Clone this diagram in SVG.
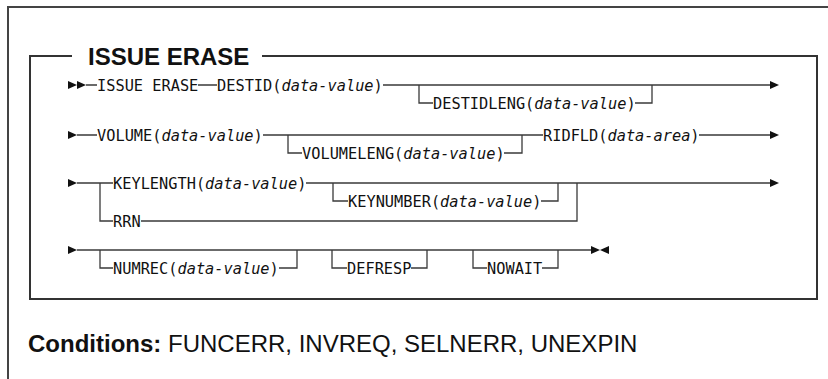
<svg xmlns="http://www.w3.org/2000/svg" width="828" height="379" viewBox="0 0 828 379">
<style>
.frame{fill:none;stroke:#444;stroke-width:2}
.box{fill:none;stroke:#333;stroke-width:2}
.ln{fill:none;stroke:#3a3a3a;stroke-width:1.3}
.ar{fill:#111}
.kw{font-family:"DejaVu Sans Mono","Liberation Mono",monospace;font-size:15.3px;fill:#111}
.it{font-style:italic}
.title{font-family:"Liberation Sans",Arial,sans-serif;font-weight:bold;font-size:24px;fill:#111}
.cond{font-family:"Liberation Sans",Arial,sans-serif;font-size:24px;fill:#111}
</style>
<defs>
<path id="ra" d="M0,-4 L9,0 L0,4 Z"/>
<path id="la" d="M0,-4 L-9,0 L0,4 Z"/>
</defs>
<g id="page-frame">
<path class="frame" d="M8,380 L8,7 L828,7"/>
</g>
<g id="syntax-box">
<path class="box" d="M72,56 L30,56 L30,299 L817,299 L817,56 L262,56"/>
<text class="title" x="88" y="64.5">ISSUE ERASE</text>
</g>
<g id="connectors">
<path class="ln" d="M86,85 L97,85 M198,85 L217,85 M383,85 L770,85"/>
<path class="ln" d="M419,85 L419,103 L433,103 M635,103 L652,103 L652,85"/>
<path class="ln" d="M77,135 L97,135 M263,135 L543,135 M699,135 L770,135"/>
<path class="ln" d="M288,135 L288,153 L302,153 M504,153 L522,153 L522,135"/>
<path class="ln" d="M77,183 L113,183 M306,183 L770,183"/>
<path class="ln" d="M100,183 L100,221 L113,221 M141,221 L577,221 L577,183"/>
<path class="ln" d="M333,183 L333,201 L348,201 M541,201 L558,201 L558,183"/>
<path class="ln" d="M77,250 L592,250"/>
<path class="ln" d="M100,250 L100,268 L113,268 M279,268 L297,268 L297,250"/>
<path class="ln" d="M332,250 L332,268 L347,268 M411,268 L427,268 L427,250"/>
<path class="ln" d="M473,250 L473,268 L487,268 M542,268 L558,268 L558,250"/>
<use href="#ra" class="ar" x="68" y="85"/>
<use href="#ra" class="ar" x="77" y="85"/>
<use href="#ra" class="ar" x="770" y="85"/>
<use href="#ra" class="ar" x="68" y="135"/>
<use href="#ra" class="ar" x="770" y="135"/>
<use href="#ra" class="ar" x="68" y="183"/>
<use href="#ra" class="ar" x="770" y="183"/>
<use href="#ra" class="ar" x="68" y="250"/>
<use href="#ra" class="ar" x="591" y="250"/>
<use href="#la" class="ar" x="609" y="250"/>
</g>
<g id="n-issue-erase"><text class="kw" x="97" y="90.5">ISSUE ERASE</text></g>
<g id="n-destid"><text class="kw" x="217" y="90.5">DESTID(<tspan class="it">data-value</tspan>)</text></g>
<g id="n-destidleng"><text class="kw" x="433" y="108.5">DESTIDLENG(<tspan class="it">data-value</tspan>)</text></g>
<g id="n-volume"><text class="kw" x="97" y="140.5">VOLUME(<tspan class="it">data-value</tspan>)</text></g>
<g id="n-volumeleng"><text class="kw" x="302" y="158.5">VOLUMELENG(<tspan class="it">data-value</tspan>)</text></g>
<g id="n-ridfld"><text class="kw" x="543" y="140.5">RIDFLD(<tspan class="it">data-area</tspan>)</text></g>
<g id="n-keylength"><text class="kw" x="113" y="188.5">KEYLENGTH(<tspan class="it">data-value</tspan>)</text></g>
<g id="n-keynumber"><text class="kw" x="348" y="206.5">KEYNUMBER(<tspan class="it">data-value</tspan>)</text></g>
<g id="n-rrn"><text class="kw" x="113" y="226.5">RRN</text></g>
<g id="n-numrec"><text class="kw" x="113" y="273.5">NUMREC(<tspan class="it">data-value</tspan>)</text></g>
<g id="n-defresp"><text class="kw" x="347" y="273.5">DEFRESP</text></g>
<g id="n-nowait"><text class="kw" x="487" y="273.5">NOWAIT</text></g>
<g id="conditions"><text class="cond" x="28" y="351.5"><tspan font-weight="bold">Conditions:</tspan> FUNCERR, INVREQ, SELNERR, UNEXPIN</text></g>
</svg>
